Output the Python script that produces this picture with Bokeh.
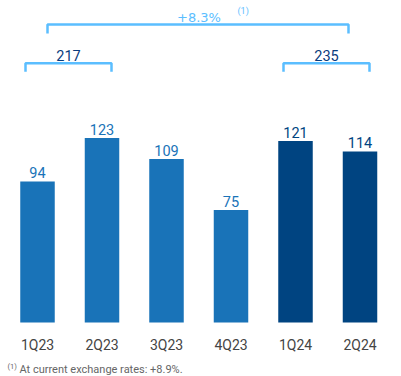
from bokeh.plotting import figure
from bokeh.models import Range1d, ColumnDataSource
from bokeh.core.properties import value
from bokeh.embed import file_html
from bokeh.resources import INLINE

# ---- data ----
quarters = ["1Q23", "2Q23", "3Q23", "4Q23", "1Q24", "2Q24"]
values = [94, 123, 109, 75, 121, 114]
years = ["2023", "2023", "2023", "2023", "2024", "2024"]
semester_totals = [217, 235]          # 1H23, 1H24
semester_bars = [[0, 1], [4, 5]]
growth_label = "+8.3%"
footnote = "At current exchange rates: +8.9%."

# ---- styles ----
C23 = "#1973B8"
C24 = "#004481"
LIGHT = "#5BBEFF"
NAVY = "#0A3C7D"
FONT = value("Roboto")

W, H = 401, 376
px_x = 64.5   # pixels per category
px_y = 1.5    # pixels per unit
x0 = -37 / px_x
y0 = -(H - 322) / px_y

p = figure(width=W, height=H, output_backend="svg", toolbar_location=None,
           x_range=Range1d(x0, x0 + W / px_x), y_range=Range1d(y0, y0 + H / px_y),
           min_border=0)
p.axis.visible = False
p.grid.visible = False
p.outline_line_color = None
p.background_fill_color = "white"

xs = list(range(len(quarters)))
colors = [C23 if y == "2023" else C24 for y in years]
src = ColumnDataSource(dict(x=xs, top=values, color=colors, q=quarters,
                            lab=[str(v) for v in values],
                            ly=[v + 6 for v in values]))

p.vbar(x="x", top="top", width=34.5 / px_x, bottom=0, fill_color="color",
       line_color=None, source=src)
p.text(x="x", y="ly", text="lab", text_color="color", text_font=FONT,
       text_font_size="14.5px", text_align="center", text_baseline="alphabetic",
       source=src)
p.text(x="x", y=-15.3, text="q", text_color="#444444", text_font=FONT,
       text_font_size="14px", text_align="center", text_baseline="alphabetic",
       source=src)

# semester brackets
dx = 1 / px_x
dy = 1 / px_y
for tot, (a, b) in zip(semester_totals, semester_bars):
    xl = a - 12 * dx
    xr = b + 9.5 * dx
    yt = 172.8
    yb = yt - 8.5 * dy
    p.line([xl, xl, xr, xr], [yb, yt, yt, yb], line_color=LIGHT, line_width=2.5)
    p.text(x=[(xl + xr) / 2], y=[177.7], text=[str(tot)], text_color=NAVY,
           text_font=FONT, text_font_size="14.5px", text_align="center",
           text_baseline="alphabetic")

# overall bracket
bxl = 0 + 10 * dx
bxr = 5 - 11.5 * dx
byt = 198.7
byb = byt - 9 * dy
p.line([bxl, bxl, bxr, bxr], [byb, byt, byt, byb], line_color=LIGHT, line_width=2.5)
p.text(x=[(bxl + bxr) / 2 + 1 * dx], y=[203.5], text=[growth_label], text_color=LIGHT,
       text_font=value("DejaVu Sans"), text_font_size="13px", text_align="center",
       text_baseline="alphabetic")
p.text(x=[3.101], y=[207.5], text=["(1)"], text_color=LIGHT, text_font=FONT,
       text_font_size="9px", text_align="left", text_baseline="alphabetic")

# footnote
p.text(x=[x0 + 7 * dx], y=[-29.3], text=["(1)"], text_color="#666666", text_font=FONT,
       text_font_size="7.5px", text_align="left", text_baseline="alphabetic")
p.text(x=[x0 + 19 * dx], y=[-31.3], text=[footnote], text_color="#666666", text_font=FONT,
       text_font_size="11px", text_align="left", text_baseline="alphabetic")

open("out.html", "w").write(file_html(p, INLINE))
